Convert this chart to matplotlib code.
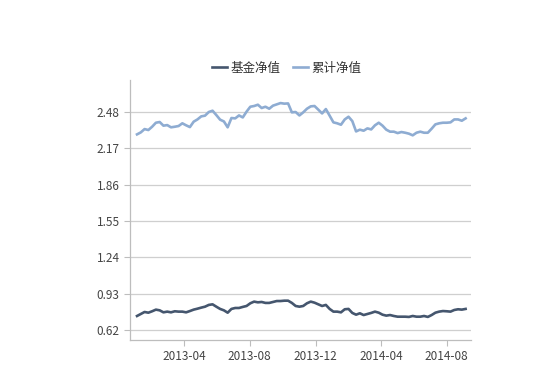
import matplotlib
matplotlib.use("Agg")
import matplotlib.pyplot as plt
import matplotlib.dates as mdates
import pandas as pd

plt.rcParams['font.family'] = ['Noto Sans CJK SC', 'DejaVu Sans']

start_date = "2013-01-04"
unit_nav = [0.743, 0.760, 0.777, 0.771, 0.783, 0.797, 0.791, 0.774, 0.780, 0.774,
            0.783, 0.780, 0.780, 0.774, 0.785, 0.797, 0.805, 0.814, 0.822, 0.837,
            0.842, 0.822, 0.803, 0.791, 0.771, 0.803, 0.811, 0.811, 0.820, 0.828,
            0.851, 0.865, 0.859, 0.862, 0.854, 0.854, 0.862, 0.870, 0.870, 0.873,
            0.873, 0.854, 0.828, 0.822, 0.828, 0.851, 0.865, 0.856, 0.842, 0.828,
            0.837, 0.803, 0.780, 0.780, 0.774, 0.800, 0.803, 0.769, 0.754, 0.766,
            0.751, 0.760, 0.769, 0.780, 0.771, 0.754, 0.746, 0.751, 0.743, 0.737,
            0.737, 0.737, 0.735, 0.743, 0.737, 0.737, 0.743, 0.735, 0.751, 0.771,
            0.780, 0.785, 0.783, 0.780, 0.794, 0.800, 0.797, 0.803]
acc_nav = [2.286, 2.303, 2.331, 2.323, 2.351, 2.385, 2.391, 2.360, 2.365, 2.346,
           2.351, 2.357, 2.380, 2.363, 2.348, 2.394, 2.413, 2.439, 2.445, 2.476,
           2.487, 2.450, 2.411, 2.396, 2.346, 2.425, 2.422, 2.447, 2.430, 2.479,
           2.521, 2.527, 2.538, 2.510, 2.521, 2.504, 2.530, 2.541, 2.552, 2.547,
           2.549, 2.473, 2.476, 2.447, 2.473, 2.504, 2.524, 2.527, 2.496, 2.464,
           2.501, 2.445, 2.388, 2.380, 2.368, 2.413, 2.436, 2.399, 2.311, 2.326,
           2.317, 2.337, 2.328, 2.363, 2.385, 2.360, 2.326, 2.309, 2.309, 2.297,
           2.306, 2.300, 2.292, 2.278, 2.300, 2.309, 2.300, 2.300, 2.334, 2.371,
           2.380, 2.385, 2.385, 2.388, 2.413, 2.413, 2.402, 2.422]
y_ticks = [0.62, 0.93, 1.24, 1.55, 1.86, 2.17, 2.48]
x_ticks = ["2013-04-01", "2013-08-01", "2013-12-01", "2014-04-01", "2014-08-01"]
labels = ["基金净值", "累计净值"]

dates = pd.date_range(start_date, periods=len(unit_nav), freq="7D")

fig = plt.figure(figsize=(5.57, 3.68), dpi=100)
ax = fig.add_axes([0.2334, 0.0761, 0.6122, 0.7065])

ax.plot(dates, unit_nav, color="#45566e", lw=1.9, label=labels[0])
ax.plot(dates, acc_nav, color="#8eacd2", lw=1.9, label=labels[1])

ax.set_ylim(0.539, 2.748)
ax.set_xlim(pd.Timestamp("2012-12-22"), pd.Timestamp("2014-09-15"))
ax.set_yticks(y_ticks)
ax.set_yticklabels([f"{v:.2f}" for v in y_ticks])
ax.set_xticks([pd.Timestamp(d) for d in x_ticks])
ax.xaxis.set_major_formatter(mdates.DateFormatter("%Y-%m"))

ax.grid(axis="y", color="#cfcfcf", lw=0.9)
ax.set_axisbelow(True)
for s in ["top", "right"]:
    ax.spines[s].set_visible(False)
for s in ["left", "bottom"]:
    ax.spines[s].set_color("#bdbdbd")
    ax.spines[s].set_linewidth(0.9)
ax.tick_params(axis="both", colors="#bdbdbd", labelcolor="#444444", labelsize=8.5, length=4)
ax.tick_params(axis="x", pad=3)

fig.legend(loc="center", bbox_to_anchor=(0.515, 0.815), ncol=2, frameon=False,
           fontsize=9, handlelength=1.2, handletextpad=0.3, columnspacing=1.0,
           labelcolor="#333333")

fig.savefig("out.png", dpi=100, facecolor="white")
